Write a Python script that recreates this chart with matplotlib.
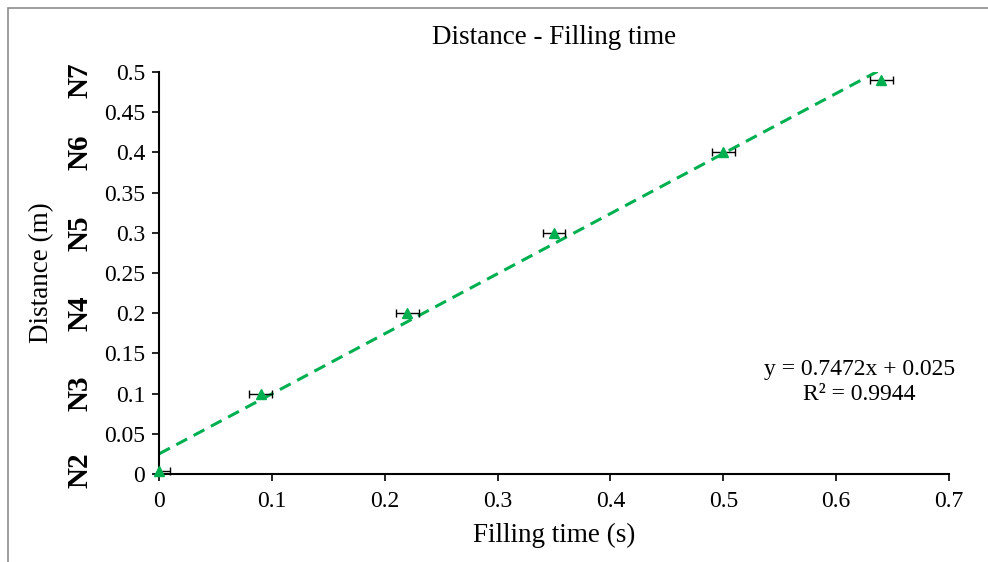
import matplotlib.pyplot as plt
import numpy as np
from matplotlib.patches import Rectangle

# Data
filling_time = [0.0, 0.09, 0.22, 0.35, 0.50, 0.64]
distance = [0.004, 0.10, 0.20, 0.30, 0.40, 0.49]
time_err_low = [0.0, 0.01, 0.01, 0.01, 0.01, 0.01]
time_err_high = [0.01, 0.01, 0.01, 0.01, 0.01, 0.01]
slope, intercept = 0.7472, 0.025
r2 = 0.9944

node_labels = ['N2', 'N3', 'N4', 'N5', 'N6', 'N7']
node_pos = [0.005, 0.10, 0.20, 0.30, 0.40, 0.49]

x_ticks = [0, 0.1, 0.2, 0.3, 0.4, 0.5, 0.6, 0.7]
x_ticklabels = ['0', '0.1', '0.2', '0.3', '0.4', '0.5', '0.6', '0.7']
y_ticks = [0, 0.05, 0.1, 0.15, 0.2, 0.25, 0.3, 0.35, 0.4, 0.45, 0.5]
y_ticklabels = ['0', '0.05', '0.1', '0.15', '0.2', '0.25', '0.3', '0.35', '0.4', '0.45', '0.5']

green = '#00B050'
plt.rcParams['font.family'] = 'Liberation Serif'

fig = plt.figure(figsize=(9.88, 5.62), dpi=100)
ax = fig.add_axes([0.161, 0.1566, 0.7995, 0.7153])

# outer frame of the chart area
fig.patches.append(Rectangle((8 / 988, -0.1), 1.2, (562 - 8) / 562 + 0.1,
                             transform=fig.transFigure, fill=False,
                             edgecolor='#8c8c8c', linewidth=1.2))

# trendline
xt = np.array([0, filling_time[-1]])
ax.plot(xt, slope * xt + intercept, '--', color=green, linewidth=2.2,
        dashes=(4, 2.4))

# points with horizontal error bars
ax.errorbar(filling_time, distance, xerr=[time_err_low, time_err_high],
            fmt='^', color=green, markersize=7, ecolor='black', elinewidth=1,
            capsize=3, capthick=1, clip_on=False, zorder=3)

ax.set_xlim(0, 0.7)
ax.set_ylim(0, 0.5)
ax.set_xticks(x_ticks)
ax.set_xticklabels(x_ticklabels)
ax.set_yticks(y_ticks)
ax.set_yticklabels(y_ticklabels)
ax.tick_params(axis='both', labelsize=17, length=5, width=1.2, color='black')
ax.tick_params(axis='x', pad=7)
ax.tick_params(axis='y', pad=5)

ax.spines['top'].set_visible(False)
ax.spines['right'].set_visible(False)
ax.spines['left'].set_linewidth(1.5)
ax.spines['bottom'].set_linewidth(1.5)

ax.set_title('Distance - Filling time', fontsize=19.5, pad=20)
ax.set_xlabel('Filling time (s)', fontsize=19.5, labelpad=8)
ax.set_ylabel('Distance (m)', fontsize=19.5, labelpad=36)

# node labels on the left
trans = ax.get_yaxis_transform()
for lab, pos in zip(node_labels, node_pos):
    ax.text(-0.1, pos, lab, transform=trans, rotation=90, ha='center',
            va='center', fontsize=21, fontweight='bold')

ax.text(0.887, 0.229, 'y = 0.7472x + 0.025\nR² = %.4f' % r2,
        transform=ax.transAxes, ha='center', va='center', fontsize=17,
        linespacing=1.25)

fig.savefig('out.png', dpi=100)
